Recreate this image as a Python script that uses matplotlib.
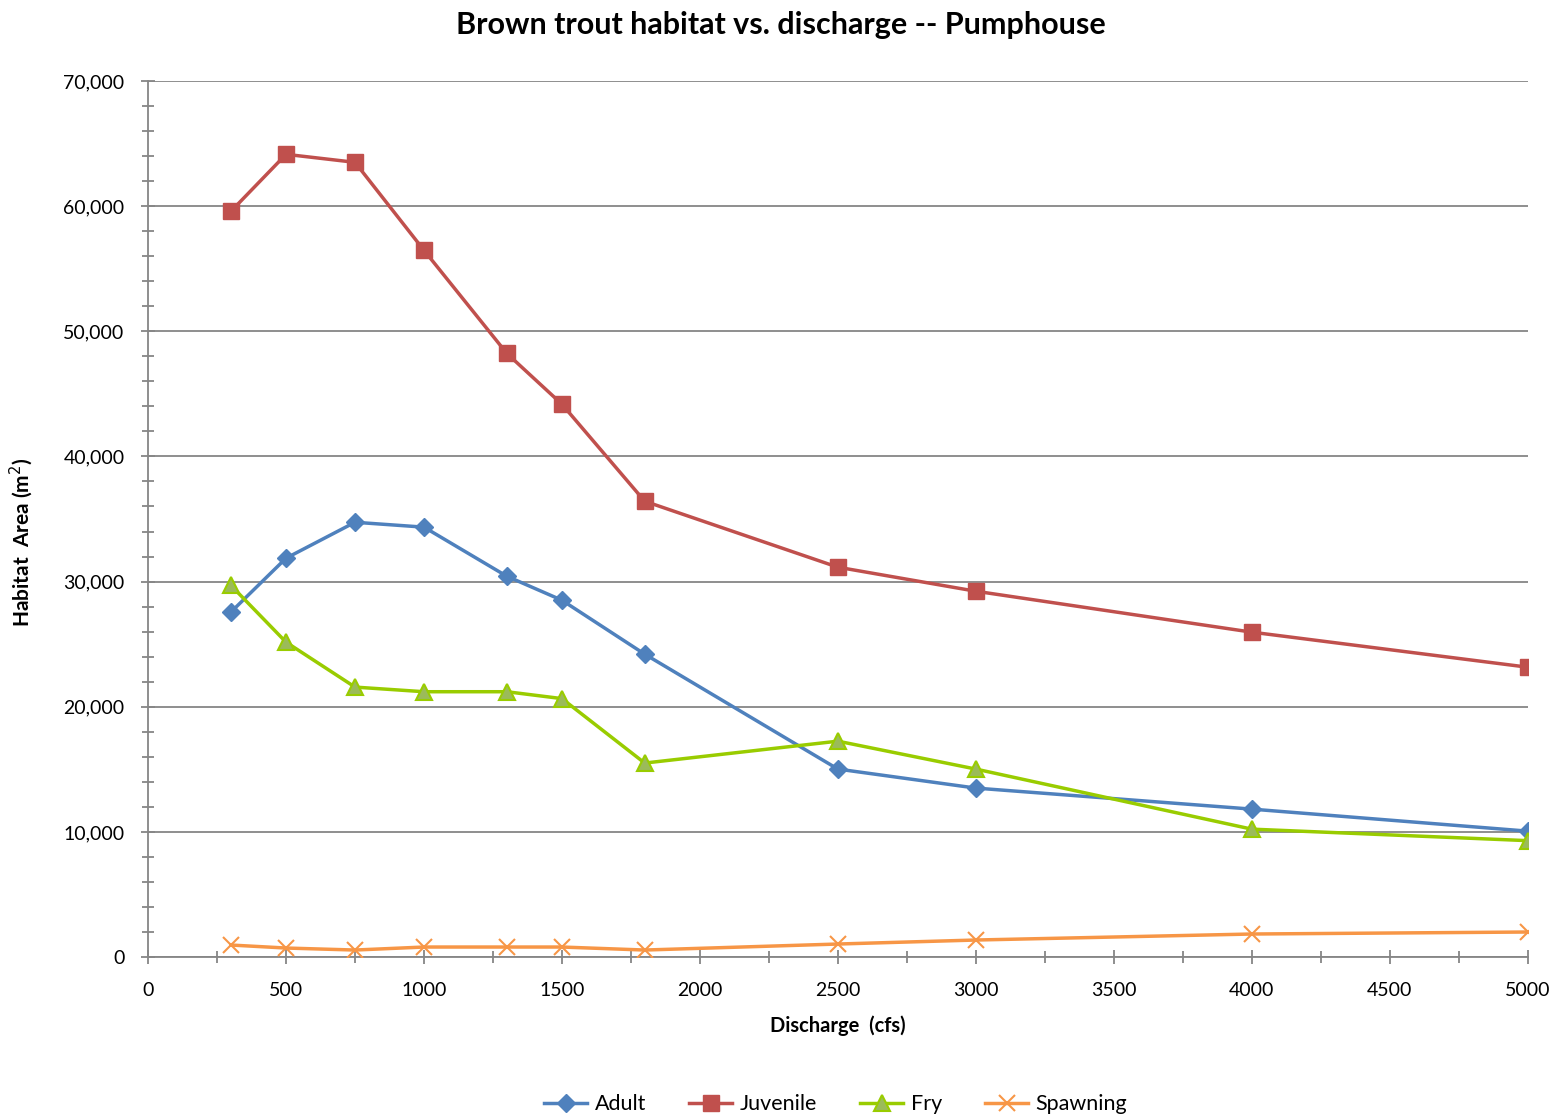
import numpy as np
import matplotlib.pyplot as plt
from matplotlib.ticker import FuncFormatter, MultipleLocator

plt.rcParams['font.family'] = ['Lato', 'DejaVu Sans']

discharge = [300, 500, 750, 1000, 1300, 1500, 1800, 2500, 3000, 4000, 5000]
adult = [27560, 31870, 34740, 34350, 30430, 28510, 24200, 15020, 13500, 11820, 10060]
juvenile = [59580, 64140, 63500, 56470, 48240, 44170, 36420, 31150, 29230, 25960, 23160]
fry = [29700, 25160, 21570, 21200, 21200, 20650, 15500, 17250, 15020, 10220, 9300]
spawning = [960, 720, 560, 800, 800, 800, 560, 1040, 1360, 1840, 2000]

fig = plt.figure(figsize=(15.62, 11.17), dpi=100)
ax = fig.add_axes([0.0948, 0.1432, 0.8832, 0.7843])

gray = '#868686'
ax.plot(discharge, adult, color='#4F81BD', lw=2.5, marker='D', ms=9,
        mfc='#4F81BD', mec='#4F81BD', label='Adult', zorder=3)
ax.plot(discharge, juvenile, color='#C0504D', lw=2.5, marker='s', ms=11,
        mfc='#C0504D', mec='#C0504D', label='Juvenile', zorder=3)
ax.plot(discharge, fry, color='#99CC00', lw=2.5, marker='^', ms=12,
        mfc='#9BBB59', mec='#99CC00', mew=1.5, label='Fry', zorder=3)
ax.plot(discharge, spawning, color='#F79646', lw=2.5, marker='x', ms=12,
        mew=1.5, label='Spawning', zorder=3)

ax.set_xlim(0, 5000)
ax.set_ylim(0, 70000)
ax.xaxis.set_major_locator(MultipleLocator(500))
ax.xaxis.set_minor_locator(MultipleLocator(250))
ax.yaxis.set_major_locator(MultipleLocator(10000))
ax.yaxis.set_minor_locator(MultipleLocator(2000))
ax.yaxis.set_major_formatter(FuncFormatter(lambda v, p: f'{int(v):,}'))

ax.grid(axis='y', which='major', color=gray, lw=1.3, zorder=0)
for s in ['top', 'right']:
    ax.spines[s].set_visible(False)
for s in ['left', 'bottom']:
    ax.spines[s].set_color(gray)
    ax.spines[s].set_linewidth(1.3)

ax.tick_params(which='both', direction='inout', color=gray, width=1.3)
ax.tick_params(which='major', length=10, labelsize=14)
ax.tick_params(axis='y', which='major', pad=12)
ax.tick_params(axis='x', which='major', pad=13)
ax.tick_params(which='minor', length=8)

fig.suptitle('Brown trout habitat vs. discharge -- Pumphouse', fontsize=22,
             fontweight='bold', x=0.5, y=0.99)
ax.set_xlabel('Discharge  (cfs)', fontsize=14.5, fontweight='bold', labelpad=12)
ax.set_ylabel('Habitat  Area (m$^2$)', fontsize=15, fontweight='bold')
ax.yaxis.set_label_coords(-0.082, 0.474)

fig.legend(loc='lower center', bbox_to_anchor=(0.535, -0.015), ncol=4,
           frameon=False, fontsize=15.5, handlelength=2.0, columnspacing=2.0,
           handletextpad=0.35)

fig.savefig('out.png', dpi=100)
